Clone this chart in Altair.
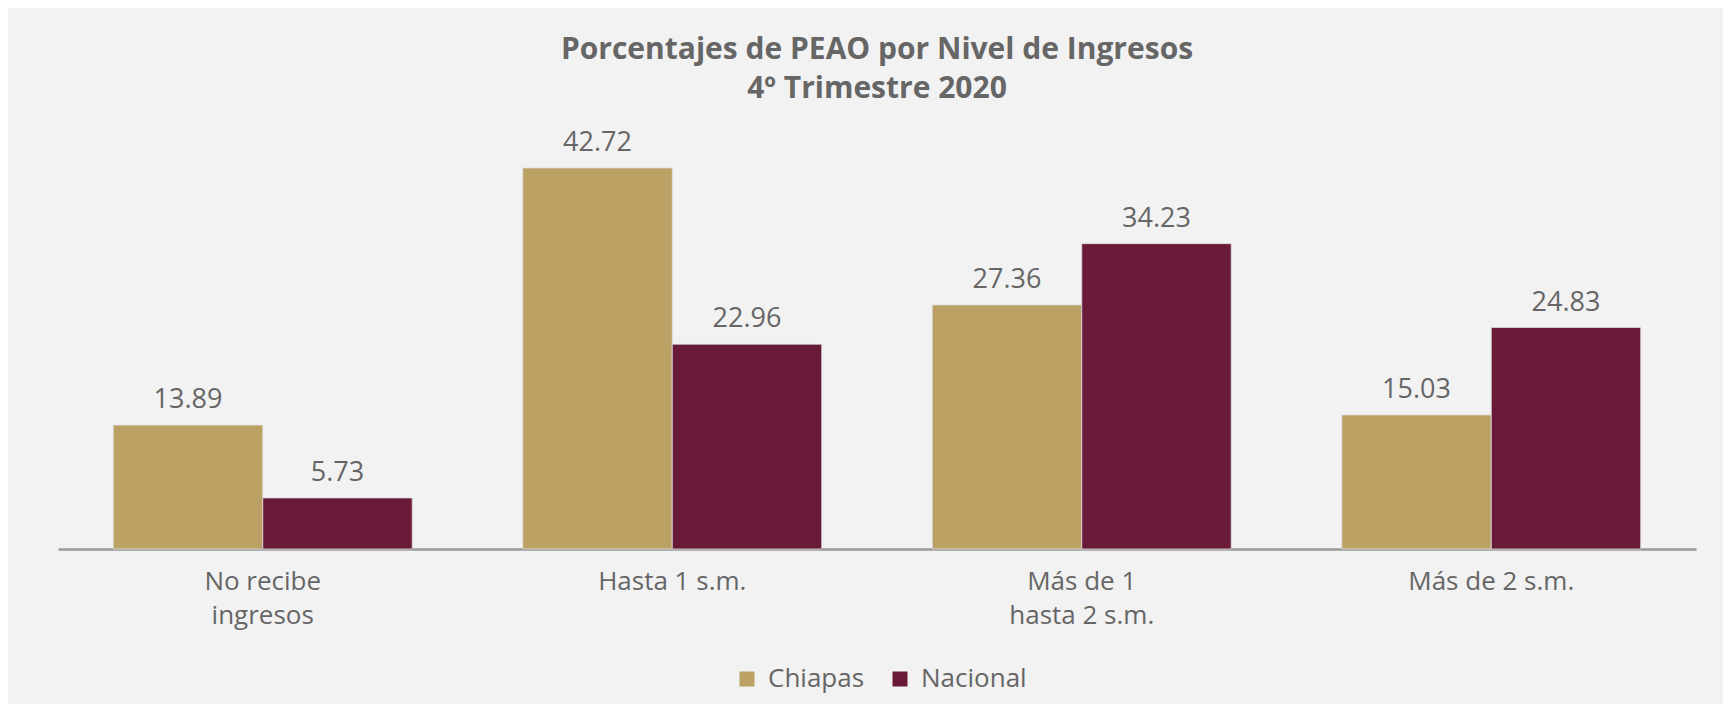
import altair as alt
import pandas as pd

categories = ["No recibe\ningresos", "Hasta 1 s.m.", "Más de 1\nhasta 2 s.m.", "Más de 2 s.m."]
series = ["Chiapas", "Nacional"]
chiapas = [13.89, 42.72, 27.36, 15.03]
nacional = [5.73, 22.96, 34.23, 24.83]
colors = ["#BBA163", "#6A1A39"]

rows = []
for c, a, b in zip(categories, chiapas, nacional):
    rows.append({"cat": c, "serie": "Chiapas", "valor": a})
    rows.append({"cat": c, "serie": "Nacional", "valor": b})
df = pd.DataFrame(rows)

FONT = "Open Sans"

x = alt.X("cat:N", sort=categories, title=None,
          scale=alt.Scale(paddingInner=0.27, paddingOuter=0.135),
          axis=alt.Axis(labelAngle=0, labelExpr="split(datum.label, '\\n')",
                        labelFontSize=26, labelColor="#666666", labelFont=FONT,
                        labelLineHeight=34, labelPadding=19, labelBaseline="top",
                        ticks=False, domainColor="#999999", domainWidth=2.5,
                        grid=False))
xo = alt.XOffset("serie:N", sort=series, scale=alt.Scale(paddingInner=0))
y = alt.Y("valor:Q", scale=alt.Scale(domain=[0, 50], nice=False), axis=None)

bars = alt.Chart(df).mark_bar(stroke="#dddddd", strokeWidth=0.8).encode(
    x=x, xOffset=xo, y=y,
    color=alt.Color("serie:N", sort=series,
                    scale=alt.Scale(domain=series, range=colors),
                    legend=alt.Legend(title=None, orient="none", direction="horizontal",
                                      legendX=676, legendY=563,
                                      symbolType="square", symbolSize=225,
                                      symbolStrokeWidth=0,
                                      labelFontSize=26, labelColor="#666666",
                                      labelFont=FONT, columnPadding=22,
                                      labelOffset=8)),
)

labels = alt.Chart(df).mark_text(dy=-17, baseline="alphabetic", fontSize=27,
                                 color="#666666", font=FONT).encode(
    x=x, xOffset=xo, y=y,
    text=alt.Text("valor:Q", format=".2f"),
)

chart = (bars + labels).properties(
    width=1638, height=446,
    title=alt.Title(["Porcentajes de PEAO por Nivel de Ingresos", "4º Trimestre 2020"],
                    fontSize=30, font=FONT, fontWeight="bold", color="#666666",
                    lineHeight=39, anchor="middle", offset=-1),
    autosize=alt.AutoSizeParams(type="none"),
    padding={"left": 50, "top": 95, "right": 27, "bottom": 155},
    background="#f2f2f2",
).configure_view(stroke=None)

chart.save("out.html", embed_options={"renderer": "svg", "actions": False})
